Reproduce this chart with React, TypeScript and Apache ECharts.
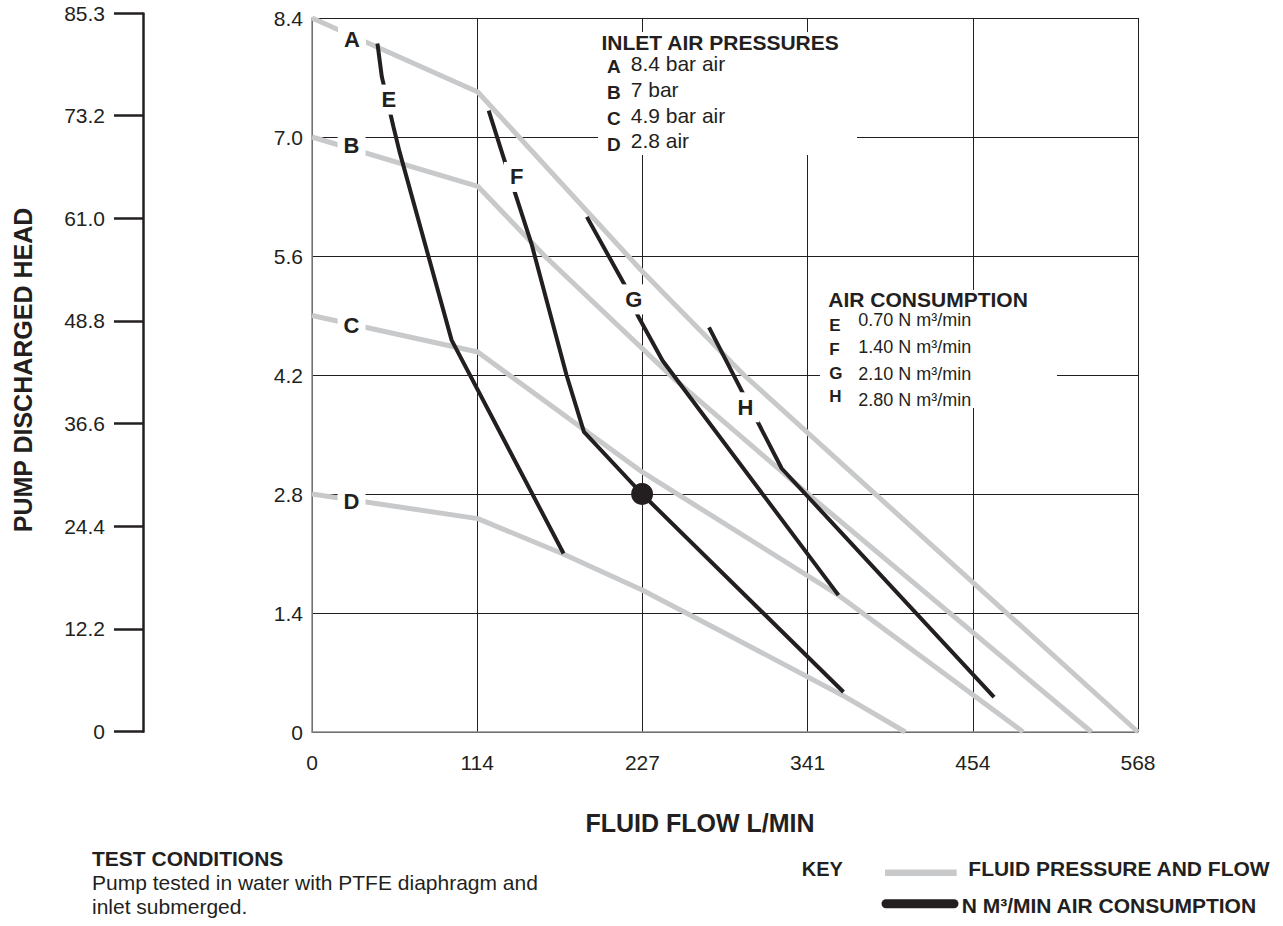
import React, { useEffect, useRef } from "react";
import * as echarts from "echarts";

const FONT = '"Liberation Sans", Arial, Helvetica, sans-serif';
const GRAY = "#c8c9cb";
const BLACK = "#231f20";

// Tick labels
const xTickLabels = ["0", "114", "227", "341", "454", "568"];
const yTickLabels = ["0", "1.4", "2.8", "4.2", "5.6", "7.0", "8.4"];
const headTickLabels = ["0", "12.2", "24.4", "36.6", "48.8", "61.0", "73.2", "85.3"];

// Fluid pressure & flow curves (x: L/min, y: bar)
const curveA: number[][] = [[0, 8.4], [114, 7.53], [227, 5.42], [297, 4.2], [568, 0]];
const curveB: number[][] = [[0, 7.0], [114, 6.42], [160, 5.6], [250, 4.14], [341, 2.8], [536, 0]];
const curveC: number[][] = [[0, 4.9], [114, 4.47], [227, 3.06], [362, 1.61], [489, 0]];
const curveD: number[][] = [[0, 2.8], [114, 2.51], [172, 2.1], [227, 1.67], [282, 1.18], [365, 0.43], [408, 0]];

// Air consumption curves
const curveE: number[][] = [[45, 8.1], [48, 7.71], [56, 7.12], [60, 6.84], [96, 4.61], [173, 2.1]];
const curveF: number[][] = [[121.5, 7.31], [133, 6.69], [151, 5.74], [175, 4.2], [187, 3.53], [227, 2.8], [365.5, 0.47]];
const curveG: number[][] = [[189, 6.06], [216, 5.23], [224, 4.9], [241, 4.37], [362, 1.61]];
const curveH: number[][] = [[273, 4.76], [323, 3.1], [469, 0.41]];

const operatingPoint: number[][] = [[227, 2.8]];

// Curve letter labels (x, y, letter)
const curveLabels: [number, number, string][] = [
  [27.5, 8.15, "A"],
  [27.2, 6.9, "B"],
  [27.2, 4.78, "C"],
  [27.2, 2.71, "D"],
  [52.8, 7.44, "E"],
  [140.7, 6.53, "F"],
  [221.3, 5.09, "G"],
  [298.1, 3.82, "H"],
];

const inletLegend: [string, string][] = [
  ["A", "8.4 bar air"],
  ["B", "7 bar"],
  ["C", "4.9 bar air"],
  ["D", "2.8 air"],
];
const airLegend: [string, string][] = [
  ["E", "0.70 N m³/min"],
  ["F", "1.40 N m³/min"],
  ["G", "2.10 N m³/min"],
  ["H", "2.80 N m³/min"],
];

function txt(text: string, x: number, y: number, font: string, align = "left", rotation = 0) {
  return {
    type: "text",
    x,
    y,
    rotation,
    z: 20,
    style: {
      text,
      font,
      fill: BLACK,
      align,
      verticalAlign: "middle",
      textAlign: align,
      textVerticalAlign: "middle",
    },
  };
}

export default function App() {
  const ref = useRef<HTMLDivElement>(null);

  useEffect(() => {
    if (!ref.current) return;
    const chart = echarts.init(ref.current, null, { renderer: "svg" });

    const pressureCurves = [
      { name: "A", data: curveA },
      { name: "B", data: curveB },
      { name: "C", data: curveC },
      { name: "D", data: curveD },
    ];
    const airCurves = [
      { name: "E", data: curveE },
      { name: "F", data: curveF },
      { name: "G", data: curveG },
      { name: "H", data: curveH },
    ];

    const graphics: any[] = [
      { type: "rect", z: 10, shape: { x: 598, y: 32, width: 259, height: 123 }, style: { fill: "#fff" } },
      { type: "rect", z: 10, shape: { x: 820, y: 290, width: 237, height: 118 }, style: { fill: "#fff" } },
      txt("INLET AIR PRESSURES", 601.5, 42.5, `bold 21px ${FONT}`),
      txt("AIR CONSUMPTION", 828.3, 299.7, `bold 21px ${FONT}`),
      txt("PUMP DISCHARGED HEAD", 23, 370, `bold 25px ${FONT}`, "center", Math.PI / 2),
      txt("FLUID FLOW L/MIN", 700, 823, `bold 25px ${FONT}`, "center"),
      txt("TEST CONDITIONS", 92, 858, `bold 21px ${FONT}`),
      txt("Pump tested in water with PTFE diaphragm and", 92, 882, `21px ${FONT}`),
      txt("inlet submerged.", 92, 906, `21px ${FONT}`),
      txt("KEY", 801.7, 868.5, `bold 20px ${FONT}`),
      txt("FLUID PRESSURE AND FLOW", 968.3, 868.5, `bold 21px ${FONT}`),
      txt("N M³/MIN AIR CONSUMPTION", 961.7, 905, `bold 21px ${FONT}`),
      { type: "line", z: 20, shape: { x1: 885, y1: 872.7, x2: 956.7, y2: 872.7 }, style: { stroke: GRAY, lineWidth: 6.5 } },
      { type: "line", z: 20, shape: { x1: 886, y1: 903.8, x2: 954, y2: 903.8 }, style: { stroke: BLACK, lineWidth: 9, lineCap: "round" } },
    ];
    const inletTextY = [63, 89.5, 115, 140.8];
    inletLegend.forEach(([k, t], i) => {
      graphics.push(txt(k, 607, inletTextY[i] + 3.3, `bold 19px ${FONT}`));
      graphics.push(txt(t, 630.7, inletTextY[i], `21px ${FONT}`));
    });
    const airTextY = [320, 347.3, 374, 400.3];
    const airKeyY = [325.8, 349.2, 373.8, 396];
    airLegend.forEach(([k, t], i) => {
      graphics.push(txt(k, 829.3, airKeyY[i], `bold 17px ${FONT}`));
      graphics.push(txt(t, 858.3, airTextY[i], `18px ${FONT}`));
    });

    const axisLabelBase = { fontSize: 21, color: BLACK, fontFamily: FONT };

    chart.setOption({
      animation: false,
      textStyle: { fontFamily: FONT },
      grid: [
        { left: 312, right: 145, top: 18, bottom: 194 },
        { left: 143, width: 1, top: 13.6, bottom: 194.3 },
      ],
      xAxis: [
        {
          gridIndex: 0,
          type: "value",
          min: 0,
          max: 568,
          interval: 113.6,
          axisLine: { show: true, lineStyle: { color: "#8c8c8c", width: 1.5 } },
          axisTick: { show: false },
          splitLine: { show: true, lineStyle: { color: BLACK, width: 1 } },
          axisLabel: {
            ...axisLabelBase,
            margin: 20,
            formatter: (v: number, i: number) => xTickLabels[i] ?? String(Math.round(v)),
          },
        },
        { gridIndex: 1, type: "value", show: false, min: 0, max: 1 },
      ],
      yAxis: [
        {
          gridIndex: 0,
          type: "value",
          min: 0,
          max: 8.4,
          interval: 1.4,
          axisLine: { show: true, lineStyle: { color: "#8c8c8c", width: 1.5 } },
          axisTick: { show: false },
          splitLine: { show: true, lineStyle: { color: BLACK, width: 1 } },
          axisLabel: {
            ...axisLabelBase,
            margin: 9,
            formatter: (v: number, i: number) => yTickLabels[i] ?? v.toFixed(1),
          },
        },
        {
          gridIndex: 1,
          type: "value",
          position: "left",
          min: 0,
          max: 85.3,
          interval: 12.2,
          axisLine: { show: true, lineStyle: { color: BLACK, width: 2.5 } },
          axisTick: { show: true, length: 29, lineStyle: { color: BLACK, width: 2.5 } },
          splitLine: { show: false },
          axisLabel: {
            ...axisLabelBase,
            margin: 38,
            formatter: (v: number, i: number) => headTickLabels[i] ?? v.toFixed(1),
          },
        },
      ],
      series: [
        ...pressureCurves.map((c) => ({
          type: "line",
          name: c.name,
          xAxisIndex: 0,
          yAxisIndex: 0,
          data: c.data,
          symbol: "none",
          showSymbol: false,
          silent: true,
          z: 2,
          lineStyle: { color: GRAY, width: 5 },
        })),
        ...airCurves.map((c) => ({
          type: "line",
          name: c.name,
          xAxisIndex: 0,
          yAxisIndex: 0,
          data: c.data,
          symbol: "none",
          showSymbol: false,
          silent: true,
          z: 3,
          lineStyle: { color: BLACK, width: 4 },
        })),
        {
          type: "scatter",
          xAxisIndex: 0,
          yAxisIndex: 0,
          data: operatingPoint,
          symbolSize: 22,
          itemStyle: { color: BLACK, opacity: 1 },
          silent: true,
          z: 4,
        },
        {
          type: "scatter",
          xAxisIndex: 0,
          yAxisIndex: 0,
          data: curveLabels.map(([x, y, t]) => ({ value: [x, y], name: t })),
          symbolSize: 1,
          itemStyle: { color: "#fff", opacity: 1 },
          silent: true,
          z: 5,
          label: {
            show: true,
            position: "inside",
            formatter: "{b}",
            fontSize: 22,
            fontWeight: "bold",
            fontFamily: FONT,
            color: BLACK,
            opacity: 1,
            backgroundColor: "#fff",
            padding: [4, 6],
          },
        },
      ],
      graphic: graphics,
    });

    return () => chart.dispose();
  }, []);

  return (
    <div
      ref={ref}
      style={{ position: "fixed", left: 0, top: 0, width: "1283px", height: "926px", background: "#fff" }}
    />
  );
}
